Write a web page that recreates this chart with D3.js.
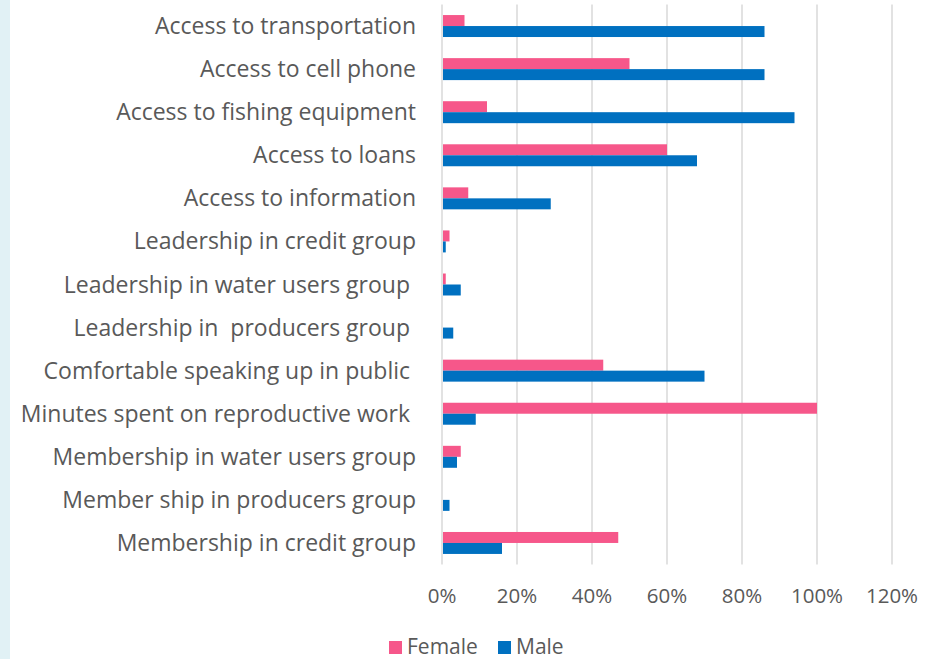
<!DOCTYPE html>
<html>
<head>
<meta charset="utf-8">
<script src="https://cdn.jsdelivr.net/npm/d3@7"></script>
<style>
  html, body { margin: 0; padding: 0; background: #fff; }
  svg { display: block; font-family: "Open Sans", "Noto Sans", sans-serif; }
  .lbl { fill: #595959; white-space: pre; }
</style>
</head>
<body>
<div id="chart"></div>
<script>
// ── data ───────────────────────────────────────────────────
const categories = [
  "Access to transportation",
  "Access to cell phone",
  "Access to fishing equipment",
  "Access to loans",
  "Access to information",
  "Leadership in credit group",
  "Leadership in water users group ",
  "Leadership in  producers group ",
  "Comfortable speaking up in public ",
  "Minutes spent on reproductive work ",
  "Membership in water users group",
  "Member ship in producers group",
  "Membership in credit group"
];
const female = [0.06, 0.50, 0.12, 0.60, 0.07, 0.02, 0.01, 0, 0.43, 1.00, 0.05, 0, 0.47];
const male   = [0.86, 0.86, 0.94, 0.68, 0.29, 0.01, 0.05, 0.03, 0.70, 0.09, 0.04, 0.02, 0.16];
const xTicks = [0, 0.2, 0.4, 0.6, 0.8, 1.0, 1.2];
const seriesNames  = ["Female", "Male"];
const seriesColors = ["#F6578A", "#0070C0"];

const W = 934, H = 659;
const plot = { left: 442, right: 892, top: 4.5, bottom: 564.5 };

const svg = d3.select('#chart').append('svg')
  .attr('width', W).attr('height', H);

// light strip on the left edge
svg.append('rect').attr('x', 0).attr('y', 0).attr('width', 10).attr('height', H)
  .attr('fill', '#E1F1F5');

const x = d3.scaleLinear().domain([0, 1.2]).range([plot.left, plot.right]);
const y = d3.scaleBand().domain(categories).range([plot.top, plot.bottom]).paddingInner(0.49).paddingOuter(0.245);
const sub = d3.scaleBand().domain(seriesNames).range([0, y.bandwidth()]);

// gridlines
svg.append('g').selectAll('line')
  .data(xTicks)
  .join('line')
  .attr('x1', d => x(d)).attr('x2', d => x(d))
  .attr('y1', plot.top).attr('y2', plot.bottom)
  .attr('stroke', '#D9D9D9').attr('stroke-width', 1.5);

// bars
const rows = categories.map((c, i) => ({ c, vals: [female[i], male[i]] }));
const grp = svg.append('g').selectAll('g')
  .data(rows)
  .join('g')
  .attr('transform', d => `translate(0,${y(d.c)})`);

grp.selectAll('rect')
  .data(d => d.vals.map((v, k) => ({ v, k })).filter(e => e.v > 0))
  .join('rect')
  .attr('x', x(0) + 1)
  .attr('y', e => sub(seriesNames[e.k]))
  .attr('width', e => x(e.v) - x(0) - 1)
  .attr('height', sub.bandwidth())
  .attr('fill', e => seriesColors[e.k]);

// category labels
svg.append('g').selectAll('text')
  .data(categories)
  .join('text')
  .attr('class', 'lbl')
  .attr('x', 416)
  .attr('y', d => y(d) + y.bandwidth() / 2)
  .attr('dy', '0.35em')
  .attr('text-anchor', 'end')
  .attr('font-size', 23)
  .text(d => d);

// x tick labels
svg.append('g').selectAll('text')
  .data(xTicks)
  .join('text')
  .attr('class', 'lbl')
  .attr('x', d => x(d))
  .attr('y', 603)
  .attr('text-anchor', 'middle')
  .attr('font-size', 20.5)
  .text(d3.format('.0%'));

// legend
const legend = svg.append('g').attr('transform', 'translate(389,647)');
const legX = [0, 109];
seriesNames.forEach((n, i) => {
  legend.append('rect').attr('x', legX[i]).attr('y', -6).attr('width', 13).attr('height', 13)
    .attr('fill', seriesColors[i]);
  legend.append('text').attr('class', 'lbl')
    .attr('x', legX[i] + 18).attr('y', 0).attr('dy', '0.35em')
    .attr('font-size', 21).text(n);
});
</script>
</body>
</html>
